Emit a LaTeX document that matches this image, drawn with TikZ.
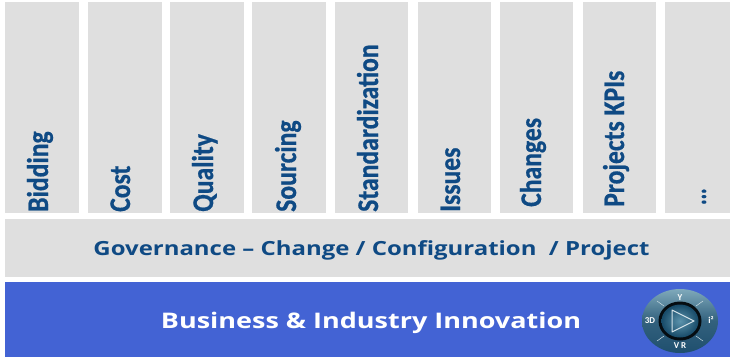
\documentclass[tikz,border=0pt]{standalone}
\usepackage{fontspec}
\setmainfont{Carlito}
\newfontfamily\wide[Ligatures=TeX]{Open Sans}
\newfontfamily\colfont[FakeBold=0.7]{Carlito Bold}
\definecolor{panel}{HTML}{DFDFDF}
\definecolor{inkblue}{HTML}{0F4A84}
\definecolor{bandblue}{HTML}{4363D4}
\definecolor{rimlight}{HTML}{7FA9BB}
\definecolor{rimdark}{HTML}{1F4F6E}
\definecolor{facelight}{HTML}{5C93AC}
\definecolor{facedark}{HTML}{174A68}
\tikzset{x=1pt,y=-1pt,
 collabel/.style={rotate=90,anchor=base west,inner sep=0,text=inkblue,font=\colfont\fontsize{30}{30}\selectfont},
 govlabel/.style={text=inkblue,inner sep=0,font=\wide\bfseries\fontsize{19.5}{24}\selectfont},
 bizlabel/.style={text=white,inner sep=0,font=\wide\bfseries\fontsize{21.5}{28}\selectfont},
 dial/.style={text=white,inner sep=0,font=\bfseries\fontsize{9}{9}\selectfont}}
\newcommand{\squeeze}[1]{\scalebox{.855}[1]{#1}}
\begin{document}
\begin{tikzpicture}
\useasboundingbox (0,0) rectangle (730,357);
\fill[white] (0,0) rectangle (730,357);
\foreach \a/\b in {5/79,88/162,170/244,252/326,335/408,418/491,500/573,583/656,665/730}
  \fill[panel] (\a,2) rectangle (\b,213);
\fill[panel] (5,219) rectangle (730,277);
\fill[bandblue] (5,282) rectangle (730,357);
\node[collabel] (l1) at (48,212) {\squeeze{Bidding}};
\node[collabel] (l2) at (130,212) {\squeeze{Cost}};
\node[collabel] (l3) at (213,212) {\squeeze{Quality}};
\node[collabel] (l4) at (296,212) {\squeeze{Sourcing}};
\node[collabel] (l5) at (378,212) {\squeeze{Standardization}};
\node[collabel] (l6) at (460,212) {\squeeze{Issues}};
\node[collabel] (l7) at (541,207) {\squeeze{Changes}};
\node[collabel] (l8) at (624,207) {\squeeze{Projects KPIs}};
\node[collabel] (l9) at (706,205) {\scalebox{.68}[1]{...}};
\node[govlabel] (gov) at (371.5,250) {\scalebox{1.228}[1]{Governance – Change / Configuration~~/ Project}};
\node[bizlabel] (biz) at (371,323) {\scalebox{1.255}[1]{Business \& Industry Innovation}};
\begin{scope}[shift={(680,321)}]
 \shade[top color=rimlight,bottom color=rimdark,middle color=rimdark!80!rimlight] (0,0) ellipse (38 and 32);
 \fill[black!85!rimdark] (0,0) ellipse (21.5 and 19.5);
 \shade[inner color=facelight,outer color=facedark] (0,0) ellipse (18.5 and 16.5);
 \draw[white!75!facelight,line width=1pt,line join=round] (-8,-11) -- (14,0) -- (-8,11) -- cycle;
 \node[dial] (c1) at (-30,0) {3D};
 \node[dial] (c2) at (31,-1) {i²};
 \node[dial] (c3) at (0,24.5) {V R};
 \node[dial] (c4) at (0,-23) {Y};
 \draw[white!60!rimlight,line width=.5pt] (-23,-20) -- (-16,-15);
 \draw[white!60!rimlight,line width=.5pt] (23,-20) -- (16,-15);
 \draw[white!60!rimlight,line width=.5pt] (-23,20) -- (-16,15);
 \draw[white!60!rimlight,line width=.5pt] (23,20) -- (16,15);
\end{scope}
\end{tikzpicture}
\end{document}
